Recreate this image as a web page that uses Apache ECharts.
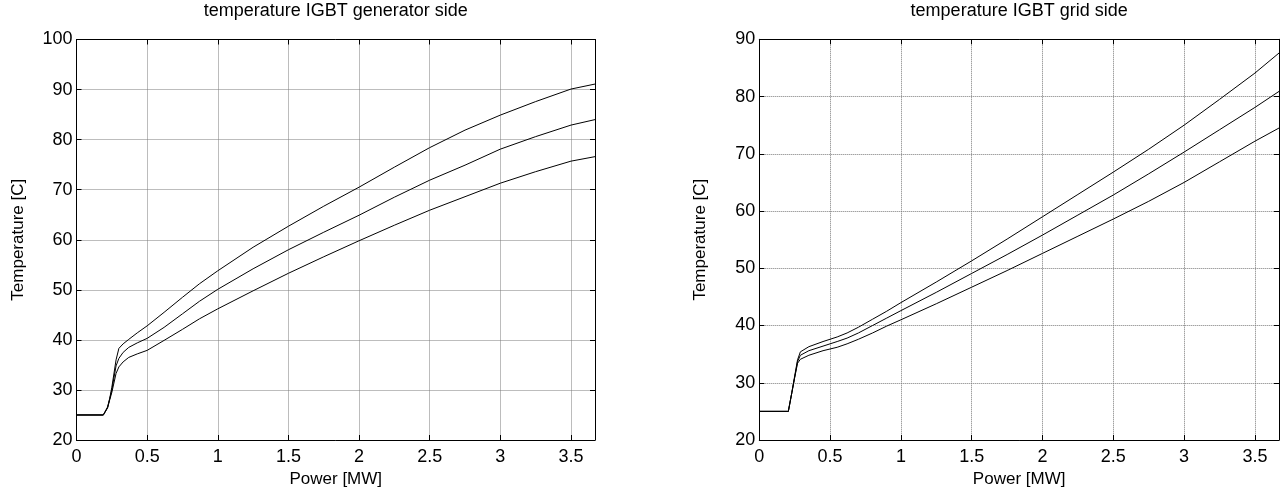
<!DOCTYPE html>
<html>
<head>
<meta charset="utf-8">
<script src="https://cdn.jsdelivr.net/npm/echarts@6/dist/echarts.min.js"></script>
<style>
  html, body { margin: 0; padding: 0; background: #fff; }
  #chart { width: 1282px; height: 494px; }
</style>
</head>
<body>
<div id="chart"></div>
<script>
// Generator-side IGBT temperature vs. power (three operating cases)
const powerGen = [0, 0.19, 0.22, 0.235, 0.25, 0.28, 0.30, 0.33, 0.37, 0.43, 0.5, 0.62, 0.75, 0.87, 1.0, 1.25, 1.5, 1.75, 2.0, 2.25, 2.5, 2.75, 3.0, 3.25, 3.5, 3.67];
const genHigh  = [25, 25, 26.6, 28.3, 30.5, 36.0, 38.3, 39.2, 40.1, 41.4, 42.8, 45.5, 48.5, 51.2, 53.8, 58.5, 62.7, 66.7, 70.5, 74.5, 78.4, 81.9, 84.9, 87.6, 90.1, 91.1];
const genMid   = [25, 25, 26.5, 28.2, 30.0, 34.8, 36.3, 37.5, 38.5, 39.4, 40.3, 42.5, 45.2, 47.7, 50.1, 54.2, 58.0, 61.5, 64.9, 68.5, 71.9, 74.9, 78.1, 80.6, 82.9, 84.0];
const genLow   = [25, 25, 26.4, 28.0, 29.5, 33.3, 34.6, 35.6, 36.5, 37.2, 37.9, 39.9, 42.1, 44.2, 46.2, 49.8, 53.3, 56.6, 59.8, 62.9, 65.9, 68.6, 71.3, 73.6, 75.7, 76.6];

// Grid-side IGBT temperature vs. power
const powerGrid = [0, 0.205, 0.23, 0.25, 0.27, 0.29, 0.35, 0.45, 0.55, 0.62, 0.7, 0.8, 0.9, 1.0, 1.25, 1.5, 1.75, 2.0, 2.25, 2.5, 2.75, 3.0, 3.25, 3.5, 3.67];
const gridHigh  = [25, 25, 28.3, 31.2, 34.0, 35.4, 36.3, 37.2, 38.0, 38.7, 39.7, 41.1, 42.5, 44.0, 47.6, 51.3, 55.1, 59.0, 62.9, 66.8, 70.8, 75.0, 79.5, 84.1, 87.6];
const gridMid   = [25, 25, 28.3, 31.0, 33.7, 34.8, 35.6, 36.4, 37.2, 37.8, 38.7, 40.0, 41.3, 42.6, 45.8, 49.1, 52.4, 55.8, 59.3, 62.8, 66.5, 70.3, 74.2, 78.1, 80.9];
const gridLow   = [25, 25, 28.3, 30.9, 33.4, 34.1, 34.8, 35.6, 36.2, 36.8, 37.6, 38.7, 39.9, 41.0, 43.8, 46.7, 49.6, 52.6, 55.6, 58.6, 61.7, 65.0, 68.6, 72.2, 74.5];

const xTicks = [0, 0.5, 1, 1.5, 2, 2.5, 3, 3.5];
const titles = ['temperature IGBT generator side', 'temperature IGBT grid side'];
const xName = 'Power [MW]';
const yName = 'Temperature [C]';

const FONT = 'Liberation Sans, Arial, sans-serif';
const XMAX = 3.67;

const pairs = (xs, ys) => xs.map((x, i) => [x, ys[i]]);

const grids = [
  { left: 76.5, top: 39.5, width: 518.5, height: 400.5 },
  { left: 759.3, top: 39.3, width: 519.7, height: 400.7 }
];

// label only the half-MW ticks, not the axis end
const fmtX = v => {
  const hit = xTicks.find(t => Math.abs(t - v) < 1e-9);
  return hit === undefined ? '' : String(hit);
};

const axisLine = { show: true, onZero: false, lineStyle: { color: '#000', width: 1 } };
const tickIn = { show: true, inside: true, length: 5, lineStyle: { color: '#000', width: 1 } };
const gridLine = { show: true, lineStyle: { color: '#7a7a7a', type: [1, 1], width: 1 } };

const xAxes = [];
const yAxes = [];
[0, 1].forEach(g => {
  xAxes.push({
    type: 'value', gridIndex: g, position: 'bottom', min: 0, max: XMAX, interval: 0.5,
    axisLine, axisTick: tickIn, splitLine: gridLine,
    axisLabel: { color: '#000', fontFamily: FONT, fontSize: 18, margin: 8, formatter: fmtX },
    name: xName, nameLocation: 'middle', nameGap: 28,
    nameTextStyle: { color: '#000', fontFamily: FONT, fontSize: 17 }
  });
  xAxes.push({
    type: 'value', gridIndex: g, position: 'top', min: 0, max: XMAX, interval: 0.5,
    axisLine, axisTick: tickIn, splitLine: { show: false }, axisLabel: { show: false }
  });
  const ymax = g === 0 ? 100 : 90;
  yAxes.push({
    type: 'value', gridIndex: g, position: 'left', min: 20, max: ymax, interval: 10,
    axisLine, axisTick: tickIn, splitLine: gridLine,
    axisLabel: { color: '#000', fontFamily: FONT, fontSize: 18, margin: 4 },
    name: yName, nameLocation: 'middle', nameGap: 50,
    nameTextStyle: { color: '#000', fontFamily: FONT, fontSize: 17 }
  });
  yAxes.push({
    type: 'value', gridIndex: g, position: 'right', min: 20, max: ymax, interval: 10,
    axisLine, axisTick: tickIn, splitLine: { show: false }, axisLabel: { show: false }
  });
});

const curve = (data, g) => ({
  type: 'line', xAxisIndex: g * 2, yAxisIndex: g * 2, data,
  showSymbol: false, smooth: false, animation: false,
  lineStyle: { color: '#000', width: 1 }
});

const series = [
  curve(pairs(powerGen, genHigh), 0),
  curve(pairs(powerGen, genMid), 0),
  curve(pairs(powerGen, genLow), 0),
  curve(pairs(powerGrid, gridHigh), 1),
  curve(pairs(powerGrid, gridMid), 1),
  curve(pairs(powerGrid, gridLow), 1)
];

const graphic = grids.map((g, i) => ({
  type: 'text',
  x: g.left + g.width / 2, y: 11,
  style: {
    text: titles[i], fill: '#000', font: '18px ' + FONT,
    textAlign: 'center', textVerticalAlign: 'middle'
  }
}));

const chart = echarts.init(document.getElementById('chart'), null, { renderer: 'canvas' });
chart.setOption({
  animation: false,
  backgroundColor: '#fff',
  grid: grids,
  xAxis: xAxes,
  yAxis: yAxes,
  series,
  graphic
});
</script>
</body>
</html>
